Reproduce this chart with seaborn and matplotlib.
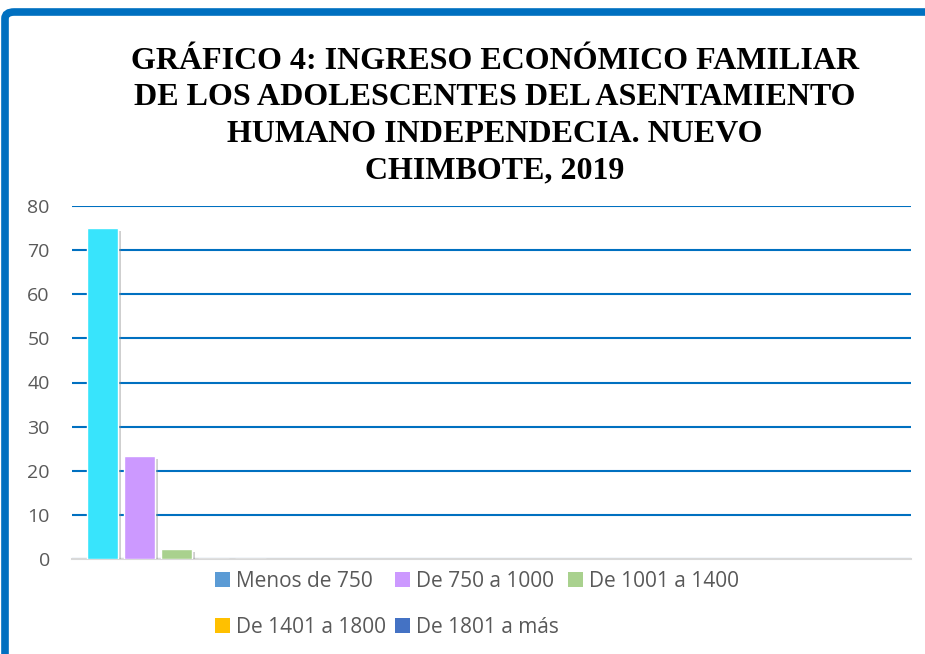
import pandas as pd
import matplotlib.pyplot as plt
import matplotlib.patheffects as pe
from matplotlib.patches import FancyBboxPatch, Patch
import seaborn as sns

# datos
categorias = ['Menos de 750', 'De 750 a 1000', 'De 1001 a 1400', 'De 1401 a 1800', 'De 1801 a más']
porcentaje = [75.0, 23.3, 2.3, 0.0, 0.0]
colores_barras = ['#38E4FC', '#CC99FF', '#A9D18E', '#FFC000', '#4472C4']
colores_leyenda = ['#5B9BD5', '#CC99FF', '#A9D18E', '#FFC000', '#4472C4']
yticks = [0, 10, 20, 30, 40, 50, 60, 70, 80]

df = pd.DataFrame({'rango': categorias, 'porcentaje': porcentaje})

sns.set_style('white')
plt.rcParams['font.family'] = ['Open Sans', 'DejaVu Sans']

fig = plt.figure(figsize=(9.25, 6.54), dpi=100)
ax = fig.add_axes([72 / 925, 1 - 559 / 654, (911 - 72) / 925, (559 - 206) / 654])

sns.barplot(
    data=df, x='rango', y='porcentaje', hue='rango',
    palette=colores_barras, saturation=1, dodge=False, legend=False, width=0.84,
    ax=ax, zorder=3
)
for p in ax.patches:
    p.set_path_effects([pe.SimplePatchShadow(offset=(2, -2), shadow_rgbFace='#888888', alpha=0.4), pe.Normal()])

ax.set_xlim(-0.824, 21.85)
ax.set_ylim(0, 80)
ax.set_yticks(yticks)
ax.set_xticks([])
ax.set_xlabel('')
ax.set_ylabel('')
ax.grid(axis='y', color='#0070C0', linewidth=1.5, zorder=0)
ax.set_axisbelow(True)
for s in ['top', 'right', 'left']:
    ax.spines[s].set_visible(False)
ax.spines['bottom'].set_color('#D9D9D9')
ax.spines['bottom'].set_linewidth(1.5)
ax.tick_params(axis='y', length=0, labelsize=14, labelcolor='#595959', pad=16)

# titulo
fig.text(495 / 925, 1 - 116 / 654,
         'GRÁFICO 4: INGRESO ECONÓMICO FAMILIAR\nDE LOS ADOLESCENTES DEL ASENTAMIENTO\nHUMANO INDEPENDECIA. NUEVO\nCHIMBOTE, 2019',
         ha='center', va='center', fontsize=23, fontweight='bold', color='black',
         family=['Liberation Serif', 'DejaVu Serif'], linespacing=1.34)

# leyenda (orden por filas)
orden = [0, 3, 1, 4, 2]
handles = [Patch(facecolor=colores_leyenda[i], edgecolor='none') for i in orden]
etiquetas = [categorias[i] for i in orden]
fig.legend(handles, etiquetas, loc='upper left', bbox_to_anchor=(215 / 925, 1 - 571 / 654),
           ncol=3, frameon=False, fontsize=15, labelcolor='#595959',
           handlelength=0.72, handleheight=0.72, handletextpad=0.29, columnspacing=0.43,
           labelspacing=1.2, borderpad=0, borderaxespad=0)

# borde azul
borde = FancyBboxPatch((5 / 925, -0.2), 1.2, 1.2 - 12 / 654, boxstyle='round,pad=0,rounding_size=0.01',
                       transform=fig.transFigure, fill=False, edgecolor='#0070C0', linewidth=5.5)
fig.patches.append(borde)

plt.savefig('out.png', dpi=100)
